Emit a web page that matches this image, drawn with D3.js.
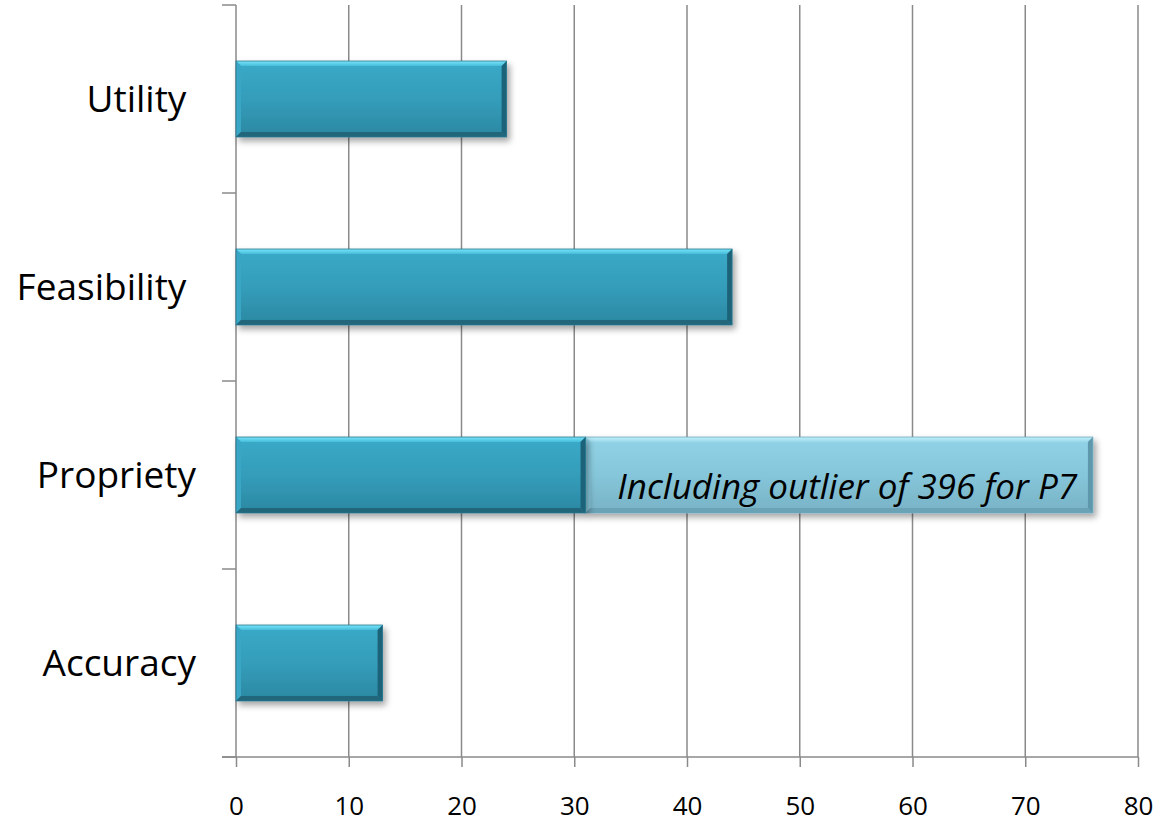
<!DOCTYPE html>
<html>
<head>
<meta charset="utf-8">
<script src="https://cdn.jsdelivr.net/npm/d3@7"></script>
<style>
  html, body { margin: 0; padding: 0; background: #fff; }
  svg { display: block; }
  text { font-family: "Open Sans", "DejaVu Sans", sans-serif; fill: #000; }
</style>
</head>
<body>
<svg id="chart" width="1169" height="823"></svg>
<script>
// Categories from bottom to top
const categories = ["Accuracy", "Propriety", "Feasibility ", "Utility "];
// Main bar values
const baseValues = [13, 31, 44, 24];
// Extra length when the P7 outlier is included (Propriety reaches 76)
const outlierExtra = [0, 45, 0, 0];
const outlierNote = "Including outlier of 396 for P7";
const xTickValues = [0, 10, 20, 30, 40, 50, 60, 70, 80];

const svg = d3.select("#chart");
const plotLeft = 236, plotRight = 1138, plotTop = 5, plotBottom = 757;

const x = d3.scaleLinear().domain([0, 80]).range([plotLeft, plotRight]);
const y = d3.scaleBand()
  .domain(categories)
  .range([plotBottom, plotTop])
  .paddingInner(0.596)
  .paddingOuter(0.298);

const defs = svg.append("defs");

function vGrad(id, stops) {
  const g = defs.append("linearGradient").attr("id", id)
    .attr("x1", 0).attr("y1", 0).attr("x2", 0).attr("y2", 1);
  stops.forEach(([o, c]) => g.append("stop").attr("offset", o).attr("stop-color", c));
}
vGrad("bodyDark", [[0, "#3aaac8"], [0.5, "#349dba"], [1, "#2b88a2"]]);
vGrad("topDark", [[0, "#7ae6fa"], [1, "#45bcd9"]]);
vGrad("bodyLight", [[0, "#92d3e7"], [0.5, "#86c6da"], [1, "#78b2c6"]]);
vGrad("topLight", [[0, "#c2f0fb"], [1, "#98d7ea"]]);

const shadow = defs.append("filter").attr("id", "shadow")
  .attr("x", "-5%").attr("y", "-20%").attr("width", "115%").attr("height", "160%");
shadow.append("feDropShadow")
  .attr("dx", 3).attr("dy", 4).attr("stdDeviation", 3)
  .attr("flood-color", "#000").attr("flood-opacity", 0.35);

// Gridlines
svg.append("g").selectAll("line")
  .data(xTickValues.filter(d => d > 0))
  .join("line")
  .attr("x1", d => x(d)).attr("x2", d => x(d))
  .attr("y1", plotTop).attr("y2", plotBottom)
  .attr("stroke", "#8a8a8a").attr("stroke-width", 1.5);

// Axes
const xAxis = svg.append("g")
  .attr("transform", `translate(0,${plotBottom})`)
  .call(d3.axisBottom(x).tickValues(xTickValues).tickSize(10).tickSizeOuter(0).tickPadding(0));
xAxis.select(".domain").remove();
xAxis.append("line").attr("x1", plotLeft - 14).attr("x2", plotRight).attr("y1", 0).attr("y2", 0)
  .attr("stroke", "#8a8a8a").attr("stroke-width", 1.5);
xAxis.selectAll(".tick line").attr("stroke", "#8a8a8a").attr("stroke-width", 1.5);
xAxis.selectAll(".tick text")
  .attr("y", 58).attr("dy", null)
  .attr("font-size", 26).attr("fill", "#000")
  .attr("font-family", "'Open Sans', sans-serif");

const yAxisG = svg.append("g");
yAxisG.append("line").attr("x1", plotLeft).attr("x2", plotLeft).attr("y1", plotTop).attr("y2", plotBottom)
  .attr("stroke", "#8a8a8a").attr("stroke-width", 1.5);
const step = y.step();
const bandEdges = d3.range(categories.length + 1).map(i => plotTop + i * step);
yAxisG.selectAll(".edge").data(bandEdges).join("line")
  .attr("class", "edge")
  .attr("x1", plotLeft - 14).attr("x2", plotLeft)
  .attr("y1", d => d).attr("y2", d => d)
  .attr("stroke", "#8a8a8a").attr("stroke-width", 1.5);

// Category labels
svg.append("g").selectAll("text")
  .data(categories)
  .join("text")
  .attr("x", 196)
  .attr("y", d => y(d) + y.bandwidth() / 2 + 13)
  .attr("text-anchor", "end")
  .attr("font-size", 37)
  .style("white-space", "pre")
  .text(d => d);

// Bevelled bar segment
function bevelBar(g, x0, x1, y0, h, light) {
  const b = 5;
  const y1 = y0 + h;
  const seg = g.append("g").attr("filter", "url(#shadow)");
  seg.append("rect").attr("x", x0).attr("y", y0).attr("width", x1 - x0).attr("height", h)
    .attr("fill", light ? "url(#bodyLight)" : "url(#bodyDark)");
  const poly = (pts, fill) => seg.append("polygon")
    .attr("points", pts.map(p => p.join(",")).join(" ")).attr("fill", fill);
  poly([[x0, y0], [x1, y0], [x1 - b, y0 + b], [x0 + b, y0 + b]], light ? "url(#topLight)" : "url(#topDark)");
  poly([[x0, y0], [x0 + b, y0 + b], [x0 + b, y1 - b], [x0, y1]], light ? "#8bcde1" : "#38a6c4");
  poly([[x1, y0], [x1, y1], [x1 - b, y1 - b], [x1 - b, y0 + b]], light ? "#5f98ad" : "#1f6479");
  poly([[x0, y1], [x0 + b, y1 - b], [x1 - b, y1 - b], [x1, y1]], light ? "#6aa2b6" : "#21667b");
  seg.append("rect").attr("x", x0).attr("y", y0).attr("width", x1 - x0).attr("height", h)
    .attr("fill", "none").attr("stroke", light ? "#6fa9bd" : "#26788f").attr("stroke-width", 0.8);
}

const bars = svg.append("g");
categories.forEach((c, i) => {
  const y0 = y(c), h = y.bandwidth();
  if (outlierExtra[i] > 0) {
    bevelBar(bars, x(baseValues[i]), x(baseValues[i] + outlierExtra[i]), y0, h, true);
  }
  bevelBar(bars, x(0), x(baseValues[i]), y0, h, false);
});

// Outlier note on the light segment
categories.forEach((c, i) => {
  if (outlierExtra[i] > 0) {
    svg.append("text")
      .attr("x", (x(baseValues[i]) + x(baseValues[i] + outlierExtra[i])) / 2 + 8)
      .attr("y", y(c) + y.bandwidth() - 14)
      .attr("text-anchor", "middle")
      .attr("font-size", 35)
      .attr("font-style", "italic")
      .text(outlierNote);
  }
});
</script>
</body>
</html>
